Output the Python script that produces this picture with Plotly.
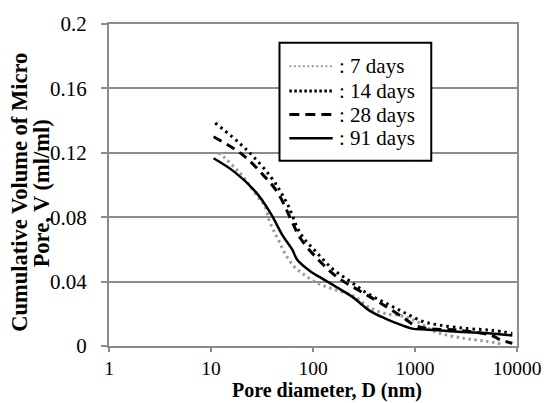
import plotly.graph_objects as go

# Pore size distribution: cumulative micro-pore volume vs pore diameter
d_7 = [11.8, 13.7, 17.1, 19.8, 29.8, 33.5, 37.2, 41.6, 46.6, 54, 65, 81, 109, 158,
       247, 358, 519, 697, 1000, 1578, 3076, 5000, 7000]
v_7 = [0.120, 0.1168, 0.1107, 0.1066, 0.0913, 0.0873, 0.0781, 0.0710, 0.0648, 0.0567,
       0.0495, 0.0445, 0.0393, 0.0353, 0.0312, 0.0240, 0.0200, 0.0190, 0.0159, 0.0088,
       0.0047, 0.0030, 0.0013]

d_14 = [11, 22, 39, 56, 75, 109, 158, 229, 350, 530, 800, 1200, 1800, 3300, 5600, 9000]
v_14 = [0.1385, 0.1223, 0.1046, 0.0883, 0.0700, 0.0580, 0.0475, 0.0404, 0.0322, 0.0263,
        0.0205, 0.0152, 0.0128, 0.0108, 0.0098, 0.0078]

d_28 = [10.6, 20.2, 31, 44.9, 60.4, 75.3, 109, 171, 286, 447, 752, 1000, 1361, 2655,
        5570, 6950, 9000]
v_28 = [0.130, 0.119, 0.1076, 0.0954, 0.0790, 0.0669, 0.0546, 0.0430, 0.0343, 0.0271,
        0.0180, 0.0128, 0.0108, 0.0098, 0.0067, 0.0037, 0.0017]

d_91 = [10.6, 17.1, 27.7, 38.7, 50.1, 62.7, 70, 94, 127, 171, 247, 358, 519, 752, 939,
        1262, 2655, 5570, 9000]
v_91 = [0.1166, 0.108, 0.0954, 0.0821, 0.0689, 0.0598, 0.0536, 0.0465, 0.0414, 0.0365,
        0.0302, 0.0220, 0.0169, 0.0128, 0.0108, 0.0103, 0.0088, 0.0078, 0.0065]

series_names = [": 7 days", ": 14 days", ": 28 days", ": 91 days"]
y_ticks = [0, 0.04, 0.08, 0.12, 0.16, 0.2]
y_tick_text = ["0", "0.04", "0.08", "0.12", "0.16", "0.2"]
x_ticks = [1, 10, 100, 1000, 10000]
x_tick_text = ["1", "10", "100", "1000", "10000"]

FONT = "Liberation Serif"
GRID = "#8c8c8c"

# plot-area geometry in pixels (used to place the titles and the legend box)
W, H = 553, 403
ML, MR, MT, MB = 109, 30, 19, 57
PW, PH = W - ML - MR, H - MT - MB


def px(x):
    return (x - ML) / PW


def py(y):
    return (H - MB - y) / PH


line_styles = [
    dict(color="#9a9a9a", width=3, dash="2.5px,3.5px"),
    dict(color="black", width=3, dash="2.5px,4px"),
    dict(color="black", width=3, dash="9px,6px"),
    dict(color="black", width=2.5),
]
legend_styles = [
    dict(color="#9a9a9a", width=2, dash="2px,2.5px"),
    dict(color="black", width=3, dash="2.5px,2.5px"),
    dict(color="black", width=3, dash="10px,6px"),
    dict(color="black", width=2.5),
]

fig = go.Figure()
for xs, ys, line, name in zip([d_7, d_14, d_28, d_91], [v_7, v_14, v_28, v_91],
                              line_styles, series_names):
    fig.add_trace(go.Scatter(x=xs, y=ys, mode="lines", name=name, line=line,
                             line_shape="spline", showlegend=False))

fig.update_layout(
    width=W, height=H,
    margin=dict(l=ML, r=MR, t=MT, b=MB),
    paper_bgcolor="white", plot_bgcolor="white",
    font=dict(family=FONT, size=21, color="black"),
    xaxis=dict(type="log", range=[0, 4], tickvals=x_ticks, ticktext=x_tick_text,
               showgrid=False, showline=True, linecolor=GRID, linewidth=2,
               mirror=True, ticks="outside", ticklen=4, tickcolor=GRID, tickwidth=2,
               tickfont=dict(family=FONT, size=19.5, color="black"), zeroline=False),
    yaxis=dict(range=[0, 0.2], tickvals=y_ticks, ticktext=y_tick_text,
               showgrid=True, gridcolor=GRID, gridwidth=2,
               showline=True, linecolor=GRID, linewidth=2, mirror=True,
               ticks="outside", ticklen=6, tickcolor=GRID, tickwidth=2,
               ticklabelstandoff=10,
               tickfont=dict(family=FONT, size=21, color="black"), zeroline=False),
)

# Legend: framed box with a line sample and a label for each series
fig.add_shape(type="rect", xref="paper", yref="paper",
              x0=px(282), x1=px(436), y0=py(158), y1=py(38),
              line=dict(color="black", width=2), fillcolor="white", layer="above")
row_y = [62, 87, 111, 135]
for yy, style, name in zip(row_y, legend_styles, series_names):
    fig.add_shape(type="line", xref="paper", yref="paper",
                  x0=px(292), x1=px(336), y0=py(yy), y1=py(yy),
                  line=style, layer="above")
    fig.add_annotation(text=name, xref="paper", yref="paper",
                       x=px(340), y=py(yy), showarrow=False,
                       xanchor="left", yanchor="middle",
                       font=dict(family=FONT, size=21, color="black"))

# Axis titles
fig.add_annotation(text="<b>Pore diameter, D (nm)</b>", xref="paper", yref="paper",
                   x=px(330), y=py(391), showarrow=False,
                   xanchor="center", yanchor="middle",
                   font=dict(family=FONT, size=20, color="black"))
fig.add_annotation(text="<b>Cumulative Volume of Micro</b>", xref="paper", yref="paper",
                   x=px(18), y=py(190), showarrow=False,
                   textangle=-90, xanchor="center", yanchor="middle",
                   font=dict(family=FONT, size=22.5, color="black"))
fig.add_annotation(text="<b>Pore, V (ml/ml)</b>", xref="paper", yref="paper",
                   x=px(40), y=py(191), showarrow=False,
                   textangle=-90, xanchor="center", yanchor="middle",
                   font=dict(family=FONT, size=22.5, color="black"))

fig.write_html("out.html")
